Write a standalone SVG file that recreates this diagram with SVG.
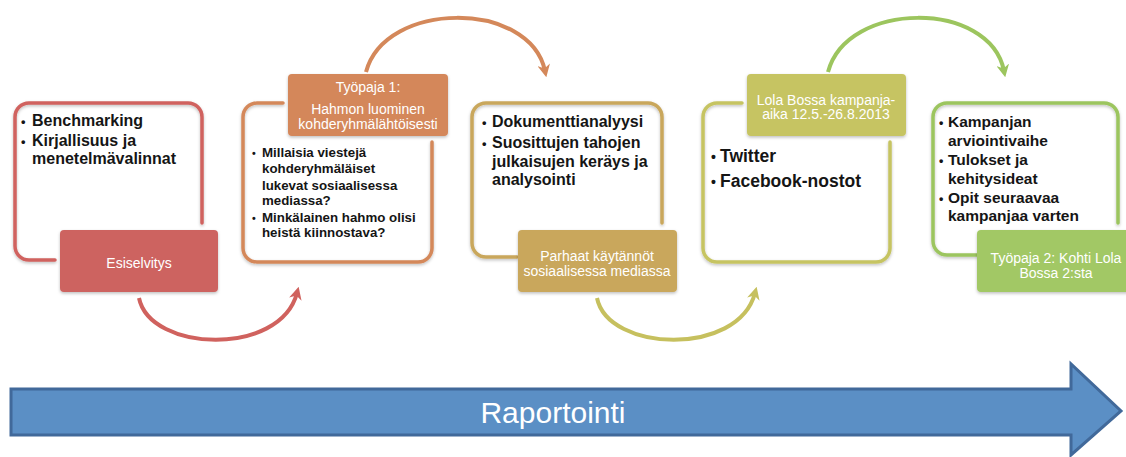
<svg xmlns="http://www.w3.org/2000/svg" width="1126" height="457" viewBox="0 0 1126 457">
<defs>
<style>
.ol{fill:none;stroke-width:3.5;stroke-linecap:round;stroke-linejoin:round}
.arc{fill:none;stroke-width:4}
.lbl{font-family:"Liberation Sans",Arial,sans-serif;font-size:14px;fill:#fff;text-anchor:middle}
.body{font-family:"Liberation Sans",Arial,sans-serif;font-weight:bold;fill:#151515}
.b{font-size:0.8em}
.sh{filter:url(#sh)}
</style>
<filter id="sh" x="-10%" y="-10%" width="120%" height="130%">
<feDropShadow dx="0" dy="1.5" stdDeviation="1.5" flood-color="#000" flood-opacity="0.25"/>
</filter>
<marker id="mR" viewBox="0 0 10 10" refX="5" refY="5" markerWidth="3.2" markerHeight="3.2" orient="auto"><path d="M0,0 L10,5 L0,10 L3,5 z" fill="#D0625E"/></marker>
<marker id="mO" viewBox="0 0 10 10" refX="5" refY="5" markerWidth="3.2" markerHeight="3.2" orient="auto"><path d="M0,0 L10,5 L0,10 L3,5 z" fill="#D4885A"/></marker>
<marker id="mG" viewBox="0 0 10 10" refX="5" refY="5" markerWidth="3.2" markerHeight="3.2" orient="auto"><path d="M0,0 L10,5 L0,10 L3,5 z" fill="#C6C05E"/></marker>
<marker id="mV" viewBox="0 0 10 10" refX="5" refY="5" markerWidth="3.2" markerHeight="3.2" orient="auto"><path d="M0,0 L10,5 L0,10 L3,5 z" fill="#9CC55E"/></marker>
</defs>
<rect width="1126" height="457" fill="#fff"/>

<g id="connectors">
<path class="arc" stroke="#D0625E" d="M139,298 C150,352 280,357 297,293" marker-end="url(#mR)"/>
<path class="arc" stroke="#D4885A" d="M366,72 C385,0 530,0 545,71" marker-end="url(#mO)"/>
<path class="arc" stroke="#C6C05E" d="M597,298 C608,352 738,357 755,293" marker-end="url(#mG)"/>
<path class="arc" stroke="#9CC55E" d="M828,72 C847,0 990,0 1004,71" marker-end="url(#mV)"/>
</g>

<g id="node1">
<path class="ol sh" stroke="#D0625E" d="M55,260 H29 A14,14 0 0 1 15,246 V117 A14,14 0 0 1 29,103 H188 A14,14 0 0 1 202,117 V223"/>
<rect class="sh" x="60" y="230" width="158" height="62" rx="4" fill="#CD6360"/>
<text class="lbl" x="139" y="268">Esiselvitys</text>
<text class="body" font-size="16"><tspan class="b" x="21" y="126">•</tspan><tspan x="32" y="126">Benchmarking</tspan><tspan class="b" x="21" y="146">•</tspan><tspan x="32" y="146">Kirjallisuus ja</tspan><tspan x="32" y="164">menetelmävalinnat</tspan></text>
</g>

<g id="node2">
<path class="ol sh" stroke="#D4885A" d="M283,103 H257 A14,14 0 0 0 243,117 V248 A14,14 0 0 0 257,262 H418 A14,14 0 0 0 432,248 V142"/>
<rect class="sh" x="288" y="74" width="160" height="62" rx="4" fill="#D4875A"/>
<text class="lbl"><tspan x="368" y="92">Työpaja 1:</tspan><tspan x="368" y="114">Hahmon luominen</tspan><tspan x="368" y="129">kohderyhmälähtöisesti</tspan></text>
<text class="body" font-size="13.3"><tspan class="b" x="252" y="157">•</tspan><tspan x="262" y="157">Millaisia viestejä</tspan><tspan x="262" y="173">kohderyhmäläiset</tspan><tspan x="262" y="190">lukevat sosiaalisessa</tspan><tspan x="262" y="205">mediassa?</tspan><tspan class="b" x="252" y="222">•</tspan><tspan x="262" y="222">Minkälainen hahmo olisi</tspan><tspan x="262" y="237">heistä kiinnostava?</tspan></text>
</g>

<g id="node3">
<path class="ol sh" stroke="#C9A75C" d="M517,257 H486 A14,14 0 0 1 472,243 V117 A14,14 0 0 1 486,103 H648 A14,14 0 0 1 662,117 V223"/>
<rect class="sh" x="518" y="230" width="159" height="62" rx="4" fill="#C9A75C"/>
<text class="lbl"><tspan x="597" y="261">Parhaat käytännöt</tspan><tspan x="597" y="276">sosiaalisessa mediassa</tspan></text>
<text class="body" font-size="16"><tspan class="b" x="482" y="127">•</tspan><tspan x="492" y="127">Dokumenttianalyysi</tspan><tspan class="b" x="482" y="148">•</tspan><tspan x="492" y="148">Suosittujen tahojen</tspan><tspan x="492" y="167">julkaisujen keräys ja</tspan><tspan x="492" y="185">analysointi</tspan></text>
</g>

<g id="node4">
<path class="ol sh" stroke="#C6C462" d="M742,103 H717 A14,14 0 0 0 703,117 V248 A14,14 0 0 0 717,262 H876 A14,14 0 0 0 890,248 V142"/>
<rect class="sh" x="747" y="74" width="159" height="62" rx="4" fill="#C6C462"/>
<text class="lbl"><tspan x="826" y="105">Lola Bossa kampanja-</tspan><tspan x="826" y="119">aika 12.5.-26.8.2013</tspan></text>
<text class="body" font-size="17.5"><tspan class="b" x="711" y="162">•</tspan><tspan x="720" y="162">Twitter</tspan><tspan class="b" x="711" y="187">•</tspan><tspan x="720" y="187">Facebook-nostot</tspan></text>
</g>

<g id="node5">
<path class="ol sh" stroke="#9CC55E" d="M977,255 H947 A14,14 0 0 1 933,241 V117 A14,14 0 0 1 947,103 H1104 A14,14 0 0 1 1118,117 V223"/>
<rect class="sh" x="977" y="230" width="158" height="62" rx="4" fill="#A2C865"/>
<text class="lbl"><tspan x="1056" y="263">Työpaja 2: Kohti Lola</tspan><tspan x="1056" y="278">Bossa 2:sta</tspan></text>
<text class="body" font-size="15.5"><tspan class="b" x="939" y="127">•</tspan><tspan x="948" y="127">Kampanjan</tspan><tspan x="948" y="146">arviointivaihe</tspan><tspan class="b" x="939" y="165">•</tspan><tspan x="948" y="165">Tulokset ja</tspan><tspan x="948" y="184">kehitysideat</tspan><tspan class="b" x="939" y="203">•</tspan><tspan x="948" y="203">Opit seuraavaa</tspan><tspan x="948" y="221">kampanjaa varten</tspan></text>
</g>

<g id="raportointi">
<polygon points="11,389 1071,389 1071,364 1121,411 1071,455 1071,435 11,435" fill="#5B8FC5" stroke="#41699A" stroke-width="3" stroke-linejoin="miter"/>
<text x="553" y="423" font-family="Liberation Sans, Arial, sans-serif" font-size="30" fill="#fff" text-anchor="middle">Raportointi</text>
</g>
</svg>
